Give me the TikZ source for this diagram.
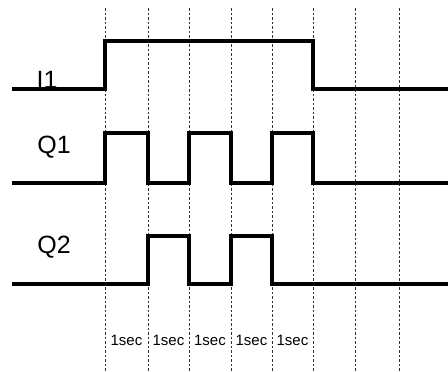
\documentclass[tikz,border=0pt]{standalone}
\usepackage{fontspec}
\setmainfont{Liberation Sans}
\begin{document}
\begin{tikzpicture}[x=1pt,y=-1pt,
  grid/.style={black!80,line width=0.7pt,dash pattern=on 2.5pt off 2pt},
  wave/.style={line width=4pt,line join=miter,line cap=butt},
  sig/.style={font=\fontsize{25}{25}\selectfont,anchor=base,inner sep=0pt},
  dur/.style={font=\fontsize{15}{15}\selectfont,anchor=base,inner sep=0pt}]
\useasboundingbox[fill=white] (0,0) rectangle (448,372);
\foreach \x in {105,148,189,231,272,313,355,399}
  \draw[grid] (\x,8) -- (\x,372);
% I1
\draw[wave] (12,89) -- (105,89) -- (105,41) -- (313,41) -- (313,89) -- (448,89);
% Q1
\draw[wave] (12,183) -- (105,183) -- (105,133) -- (148,133) -- (148,183) -- (189,183) -- (189,133) -- (231,133) -- (231,183) -- (272,183) -- (272,133) -- (313,133) -- (313,183) -- (448,183);
% Q2
\draw[wave] (12,284) -- (148,284) -- (148,236) -- (189,236) -- (189,284) -- (231,284) -- (231,236) -- (272,236) -- (272,284) -- (448,284);
\node[sig] (i1) at (47,88) {I1};
\node[sig] (q1) at (54,153) {Q1};
\node[sig] (q2) at (54,253) {Q2};
\node[dur] (d1) at (126.5,345) {1sec};
\node[dur] (d2) at (168.5,345) {1sec};
\node[dur] (d3) at (210,345) {1sec};
\node[dur] (d4) at (251.5,345) {1sec};
\node[dur] (d5) at (292.5,345) {1sec};
\end{tikzpicture}
\end{document}
